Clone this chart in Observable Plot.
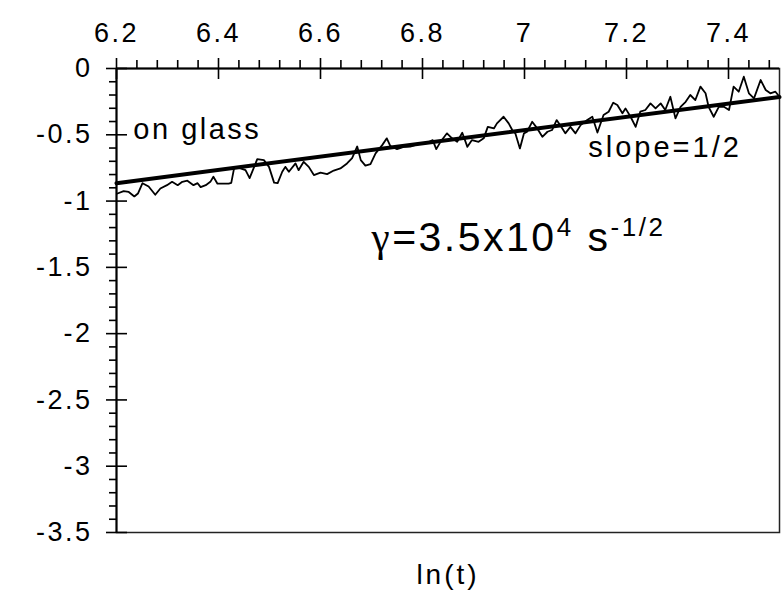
<!DOCTYPE html>
<html><head><meta charset="utf-8">
<script src="https://cdn.jsdelivr.net/npm/d3@7"></script>
<script src="https://cdn.jsdelivr.net/npm/@observablehq/plot@0.6"></script>
<style>
body{margin:0;background:#fff;}
#chart svg{display:block;}
</style></head><body><div id="chart"></div>
<script>
// ---- data ----
const lnT = [6.202,6.214,6.224,6.235,6.242,6.251,6.263,6.276,6.286,6.299,6.309,6.320,6.329,6.339,6.351,6.359,6.365,6.375,6.384,6.390,6.398,6.420,6.425,6.431,6.443,6.453,6.461,6.476,6.489,6.499,6.509,6.516,6.525,6.531,6.538,6.551,6.557,6.567,6.577,6.587,6.600,6.613,6.626,6.639,6.652,6.662,6.672,6.679,6.688,6.698,6.708,6.721,6.730,6.737,6.750,6.763,6.776,6.788,6.799,6.809,6.820,6.827,6.835,6.848,6.858,6.868,6.878,6.888,6.897,6.910,6.920,6.928,6.940,6.946,6.959,6.969,6.976,6.982,6.991,6.999,7.005,7.015,7.025,7.035,7.045,7.054,7.063,7.072,7.080,7.090,7.100,7.110,7.123,7.133,7.143,7.155,7.165,7.174,7.182,7.192,7.198,7.208,7.218,7.227,7.237,7.247,7.257,7.267,7.276,7.286,7.296,7.306,7.316,7.325,7.335,7.345,7.355,7.361,7.371,7.381,7.391,7.401,7.410,7.420,7.430,7.440,7.450,7.463,7.473,7.482,7.492,7.500];
const signal = [-0.943,-0.925,-0.931,-0.965,-0.943,-0.865,-0.890,-0.952,-0.905,-0.880,-0.855,-0.880,-0.855,-0.846,-0.880,-0.865,-0.895,-0.880,-0.855,-0.817,-0.869,-0.869,-0.863,-0.744,-0.754,-0.767,-0.827,-0.684,-0.691,-0.742,-0.861,-0.865,-0.779,-0.742,-0.779,-0.716,-0.767,-0.704,-0.742,-0.804,-0.785,-0.797,-0.770,-0.754,-0.716,-0.676,-0.588,-0.691,-0.733,-0.721,-0.640,-0.578,-0.527,-0.585,-0.608,-0.591,-0.589,-0.574,-0.565,-0.563,-0.540,-0.608,-0.555,-0.489,-0.527,-0.553,-0.485,-0.591,-0.540,-0.553,-0.527,-0.440,-0.452,-0.414,-0.364,-0.414,-0.464,-0.489,-0.603,-0.489,-0.477,-0.402,-0.452,-0.515,-0.477,-0.464,-0.389,-0.440,-0.489,-0.440,-0.489,-0.427,-0.389,-0.364,-0.483,-0.351,-0.326,-0.258,-0.276,-0.338,-0.301,-0.364,-0.440,-0.326,-0.313,-0.263,-0.301,-0.263,-0.313,-0.213,-0.376,-0.289,-0.251,-0.200,-0.238,-0.137,-0.187,-0.289,-0.364,-0.289,-0.289,-0.313,-0.137,-0.175,-0.062,-0.187,-0.225,-0.087,-0.162,-0.187,-0.175,-0.213];
const fitX = [6.2, 7.5];
const fitY = [-0.865, -0.215];
const xTicks = [6.2, 6.4, 6.6, 6.8, 7, 7.2, 7.4];
const yTicks = [0, -0.5, -1, -1.5, -2, -2.5, -3, -3.5];
const xLabel = "ln(t)";
const notes = ["on glass", "slope=1/2"];
const noteX = [6.233, 7.125];
const noteY = [-0.46, -0.60];
const gammaText = ["γ", "=3.5x10", "4", " s", "-1/2"];
const gammaX = 6.70, gammaY = -1.28;

// ---- build ----
const W = 782, H = 603, mL = 116, mR = 3, mT = 68, mB = 71;
const pw = W - mL - mR, ph = H - mT - mB;
const xMinor = d3.range(6.2, 7.5001, 0.04).map(v => +v.toFixed(2)).filter(v => !xTicks.some(t => Math.abs(t - v) < 1e-6));
const yMinor = d3.range(0, -3.5001, -0.1).map(v => +v.toFixed(1)).filter(v => !yTicks.some(t => Math.abs(t - v) < 1e-6));
const curve = lnT.map((x, i) => ({x, y: signal[i]}));
const fit = fitX.map((x, i) => ({x, y: fitY[i]}));
const noteData = notes.map((t, i) => ({t, x: noteX[i], y: noteY[i]}));
const gammaFull = gammaText.join("");

const plot = Plot.plot({
  width: W, height: H,
  marginLeft: mL, marginRight: mR, marginTop: mT, marginBottom: mB,
  x: {domain: [6.2, 7.5]},
  y: {domain: [-3.5, 0]},
  style: {fontFamily: "'Liberation Sans', Arial, sans-serif", background: "white", color: "black", overflow: "visible"},
  marks: [
    Plot.frame({stroke: "#222", strokeWidth: 1.5}),
    Plot.ruleY([0], {stroke: "black", strokeWidth: 2}),
    Plot.ruleX([6.2], {stroke: "black", strokeWidth: 2}),
    Plot.axisX(xTicks, {anchor: "top", tickSize: 11, tickPadding: 16, fontSize: 27, tickFormat: d => String(d), label: null, strokeWidth: 1.6}),
    Plot.ruleX(xTicks, {insetBottom: ph - 11, strokeWidth: 1.6}),
    Plot.ruleX(xMinor, {insetTop: -8, insetBottom: ph, strokeWidth: 1.6}),
    Plot.axisY(yTicks, {anchor: "left", tickSize: 10, tickPadding: 14, fontSize: 27, tickFormat: d => String(d), label: null, strokeWidth: 1.6}),
    Plot.ruleY(yTicks, {insetRight: pw - 11, strokeWidth: 1.6}),
    Plot.ruleY(yMinor, {insetLeft: -7, insetRight: pw, strokeWidth: 1.6}),
    Plot.line(curve, {x: "x", y: "y", stroke: "black", strokeWidth: 1.8}),
    Plot.line(fit, {x: "x", y: "y", stroke: "black", strokeWidth: 4}),
    Plot.text(noteData, {x: "x", y: "y", text: "t", textAnchor: "start", fontSize: 29}),
    Plot.text([gammaFull], {x: () => gammaX, y: () => gammaY, text: d => d, textAnchor: "start", fontSize: 41}),
    Plot.text([xLabel], {frameAnchor: "bottom", dy: 51, fontSize: 28})
  ]
});

// letter spacing like the original
plot.querySelectorAll('[aria-label="x-axis tick label"] text, [aria-label="y-axis tick label"] text').forEach(t => t.style.letterSpacing = "2.5px");
plot.querySelectorAll('text').forEach(t => {
  if (t.textContent === notes[0]) t.style.letterSpacing = "2.5px";
  if (t.textContent === notes[1]) t.style.letterSpacing = "3px";
  if (t.textContent === xLabel) t.style.letterSpacing = "3px";
});
// superscripts for gamma annotation
const ns = "http://www.w3.org/2000/svg";
const gEl = [...plot.querySelectorAll("text")].find(t => t.textContent === gammaFull);
if (gEl) {
  gEl.textContent = "";
  gEl.style.letterSpacing = "2.5px";
  const spec = [
    {t: gammaText[0], family: "'Liberation Serif', 'DejaVu Serif', serif"},
    {t: gammaText[1]},
    {t: gammaText[2], size: 26, dy: -15},
    {t: gammaText[3], dy: 15},
    {t: gammaText[4], size: 26, dy: -15}
  ];
  spec.forEach(s => {
    const ts = document.createElementNS(ns, "tspan");
    ts.textContent = s.t;
    if (s.family) ts.setAttribute("font-family", s.family);
    if (s.size) ts.setAttribute("font-size", s.size);
    if (s.dy) ts.setAttribute("dy", s.dy);
    gEl.appendChild(ts);
  });
}
document.getElementById("chart").appendChild(plot);
</script>
</body></html>
